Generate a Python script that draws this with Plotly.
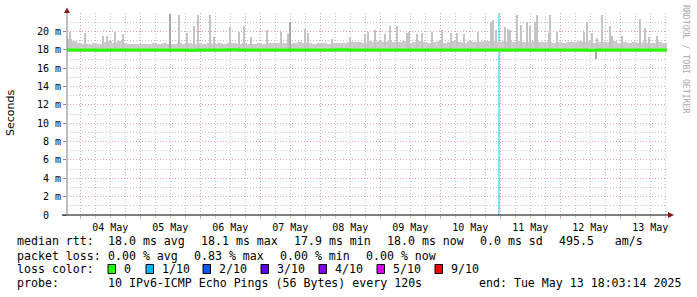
import plotly.graph_objects as go
import pandas as pd

# ---------------- data ----------------
START = pd.Timestamp("2025-05-03 18:40")
END = pd.Timestamp("2025-05-13 18:40")

# smoke band upper edge, one value per 2-hour column (ms)
band_top_ms = [
    19.2, 19.0, 18.8, 18.7, 18.7, 18.8, 18.7, 18.9, 19.0, 18.8, 19.0, 18.8,
    18.7, 18.7, 18.6, 18.7, 18.7, 18.8, 18.7, 18.8, 18.7, 18.6, 18.8, 18.7,
    18.8, 18.7, 18.8, 18.7, 18.8, 18.7, 18.8, 18.7, 18.8, 18.8, 18.7, 18.8,
    18.7, 18.7, 18.8, 18.7, 18.8, 18.8, 18.8, 18.8, 18.7, 18.8, 18.9, 18.8,
    18.8, 18.7, 18.8, 18.8, 18.7, 18.8, 18.8, 18.8, 18.9, 18.9, 18.9, 18.8,
    19.0, 18.9, 19.0, 18.9, 19.0, 18.9, 18.9, 19.0, 18.8, 18.9, 19.0, 18.9,
    18.8, 18.9, 19.0, 18.8, 18.9, 19.0, 18.9, 18.8, 19.0, 18.9, 18.9, 19.0,
    19.0, 19.0, 18.9, 19.0, 19.0, 18.9, 19.0, 18.9, 18.9, 19.0, 18.9, 18.9,
    18.9, 18.8, 18.9, 18.8, 18.9, 18.9, 19.0, 18.9, 19.0, 18.8, 18.9, 18.9,
    18.9, 19.0, 18.8, 18.9, 18.8, 18.9, 18.8, 18.9, 18.8, 18.8, 18.9, 18.8,
]
smoke_floor_ms = 17.8

# individual smoke spikes (hours after START, ms)
spike_hours = [1.2, 7.2, 14.4, 16.0, 19.2, 22.4, 44.8, 48.0, 50.8, 52.4,
               57.2, 58.8, 65.2, 68.8, 70.8, 73.6, 80.0, 85.6, 88.4, 95.2,
               96.4, 106.0, 113.2, 119.2, 120.4, 123.2, 127.2, 129.2, 132.0, 136.0,
               136.8, 140.0, 142.0, 146.0, 150.0, 153.6, 156.0, 158.8, 164.4, 169.6,
               170.4, 171.6, 175.2, 176.4, 177.2, 180.0, 181.6, 184.0, 185.2, 187.2,
               188.0, 192.8, 193.2, 196.0, 206.8, 208.0, 210.0, 212.0, 214.0, 217.2,
               218.0, 222.0, 229.2, 231.2, 232.8, 236.0]
spike_ms = [20.0, 19.9, 19.5, 19.5, 20.0, 19.7, 21.8, 19.9, 20.6, 21.8,
            21.8, 19.4, 20.5, 20.0, 20.6, 19.4, 20.2, 20.0, 19.7, 20.3,
            19.9, 19.2, 19.4, 19.7, 20.0, 20.2, 19.7, 20.6, 20.6, 19.9,
            20.0, 19.7, 19.9, 20.0, 20.2, 19.8, 19.8, 19.7, 20.0, 21.0,
            21.3, 20.2, 20.5, 20.3, 20.2, 21.8, 20.7, 21.0, 20.6, 21.0,
            21.8, 19.8, 21.8, 20.0, 20.0, 21.0, 19.8, 19.3, 21.8, 20.6,
            19.5, 19.5, 21.4, 20.4, 19.4, 19.5]
dark_spike_hours = [41.2, 89.2]
dark_spike_ms = [21.9, 21.0]
dip_hours = [211.6]
dip_ms = [17.0]

# median rtt, one value per 4-hour step (ms)
median_ms = [
    18.00, 18.00, 18.00, 17.98, 18.00, 18.00, 18.00, 18.00, 18.00, 18.00,
    18.00, 18.00, 17.98, 18.00, 18.00, 18.00, 18.02, 18.00, 18.00, 18.00,
    18.00, 18.00, 18.00, 18.00, 18.00, 18.00, 18.00, 18.02, 18.00, 18.00,
    18.00, 18.00, 18.00, 18.00, 18.00, 18.00, 18.00, 18.00, 18.00, 18.00,
    18.00, 18.00, 18.00, 18.00, 18.00, 18.00, 18.00, 18.00, 18.00, 18.00,
    18.00, 18.00, 17.98, 18.00, 18.00, 18.00, 18.00, 18.00, 18.00, 18.00,
]

loss_times = ["2025-05-10 23:24"]
loss_fraction = [0.1]

y_ticks_ms = [0, 2, 4, 6, 8, 10, 12, 14, 16, 18, 20]
y_tick_text = ["0\u00a0\u00a0"] + [f"{v} m" for v in y_ticks_ms[1:]]

rtt_texts = ["median rtt:", "18.0 ms avg", "18.1 ms max", "17.9 ms min",
             "18.0 ms now", "0.0 ms sd", "495.5\u00a0\u00a0\u00a0am/s"]
loss_texts = ["packet loss:", "0.00 % avg", "0.83 % max", "0.00 % min", "0.00 % now"]
loss_labels = ["0", "1/10", "2/10", "3/10", "4/10", "5/10", "9/10"]
loss_colors = ["#26ff00", "#00b8ff", "#0059ff", "#5e00ff", "#7e00ff", "#dd00ff", "#ff0000"]
probe_texts = ["probe:", "10 IPv6-ICMP Echo Pings (56 Bytes) every 120s",
               "end: Tue May 13 18:03:14 2025"]

# ---------------- layout helpers ----------------
PL, PW, PB, PH = 67, 600, 215, 202   # plot left, width, bottom, height (px)
Y_MAX = 22.03


def px_x(px):
    return (px - PL) / PW


def px_y(py):
    return (PB - py) / PH


MONO = "DejaVu Sans Mono"
HOUR = pd.Timedelta(hours=1)
MAJOR_GRID = "#eaa2a2"
MINOR_GRID = "#c4c4c4"
GRID_DASH = "1px,2px"

fig = go.Figure()

# loss bar
fig.add_trace(go.Bar(
    x=pd.to_datetime(loss_times), y=[Y_MAX for _ in loss_times], base=0,
    width=2880000, marker=dict(color="rgba(0,184,255,0.45)", line=dict(width=0)),
    hoverinfo="skip"))

# smoke band
band_x = [START + HOUR * (2 * i + 1) for i in range(len(band_top_ms))]
fig.add_trace(go.Bar(
    x=band_x, y=[v - smoke_floor_ms for v in band_top_ms], base=smoke_floor_ms,
    width=7200000, marker=dict(color="#cccccc", line=dict(width=0))))

# spikes
fig.add_trace(go.Bar(
    x=[START + HOUR * h for h in spike_hours],
    y=[v - smoke_floor_ms for v in spike_ms], base=smoke_floor_ms,
    width=1440000, marker=dict(color="#c4c4c4", line=dict(width=0))))
fig.add_trace(go.Bar(
    x=[START + HOUR * h for h in dark_spike_hours],
    y=[v - smoke_floor_ms for v in dark_spike_ms], base=smoke_floor_ms,
    width=1440000, marker=dict(color="#a8a8a8", line=dict(width=0))))
fig.add_trace(go.Bar(
    x=[START + HOUR * h for h in dip_hours],
    y=[smoke_floor_ms - v for v in dip_ms], base=dip_ms,
    width=1440000, marker=dict(color="#a8a8a8", line=dict(width=0))))

# median line
med_x = [START + HOUR * (4 * i) for i in range(len(median_ms))] + [END]
fig.add_trace(go.Scatter(
    x=med_x, y=median_ms + [median_ms[-1]], mode="lines",
    line=dict(color="#26ff00", width=3, shape="hv"), hoverinfo="skip"))

fig.update_layout(
    width=697, height=297,
    margin=dict(l=PL, r=697 - PL - PW, t=PB - PH, b=297 - PB),
    paper_bgcolor="white", plot_bgcolor="white",
    barmode="overlay", bargap=0, showlegend=False,
    font=dict(family=MONO, size=10, color="black"),
)

fig.update_xaxes(
    type="date", range=[START, END],
    tick0="2025-05-04", dtick=86400000, ticklabelmode="period", tickformat="%d %b",
    showgrid=True, gridcolor=MAJOR_GRID, griddash=GRID_DASH, gridwidth=1,
    ticks="outside", ticklen=3, tickcolor=MAJOR_GRID,
    tickfont=dict(family=MONO, size=10, color="black"),
    minor=dict(dtick=21600000, showgrid=True, gridcolor=MINOR_GRID,
               griddash=GRID_DASH, ticks="outside", ticklen=2, tickcolor="#c8c8c8"),
    showline=False, zeroline=False, fixedrange=True,
)
fig.update_yaxes(
    range=[0, Y_MAX], tickvals=y_ticks_ms, ticktext=y_tick_text,
    showgrid=True, gridcolor=MAJOR_GRID, griddash=GRID_DASH, gridwidth=1,
    ticks="outside", ticklen=3, tickcolor="#888888",
    tickfont=dict(family=MONO, size=10, color="black"),
    minor=dict(dtick=1, showgrid=True, gridcolor=MINOR_GRID, griddash=GRID_DASH),
    showline=False, zeroline=False, fixedrange=True,
)

shapes = [
    # axis lines
    dict(type="line", xref="paper", yref="paper", x0=px_x(62), x1=px_x(668),
         y0=0, y1=0, line=dict(color="black", width=1), layer="above"),
    dict(type="line", xref="paper", yref="paper", x0=0, x1=0,
         y0=0, y1=px_y(10), line=dict(color="#808080", width=1), layer="above"),
    # arrows
    dict(type="path", xref="paper", yref="paper",
         path=f"M {px_x(64)},{px_y(13)} L {px_x(67)},{px_y(7.5)} L {px_x(70)},{px_y(13)} Z",
         fillcolor="#8b1a1a", line=dict(width=0), layer="above"),
    dict(type="path", xref="paper", yref="paper",
         path=f"M {px_x(668)},{px_y(212)} L {px_x(674)},{px_y(215)} L {px_x(668)},{px_y(218)} Z",
         fillcolor="#8b1a1a", line=dict(width=0), layer="above"),
]

annotations = [
    dict(text="Seconds", xref="paper", yref="paper", x=px_x(10), y=px_y(113),
         xanchor="center", yanchor="middle", textangle=-90, showarrow=False,
         font=dict(family="DejaVu Sans", size=11, color="black")),
    dict(text="RRDTOOL / TOBI OETIKER", xref="paper", yref="paper",
         x=px_x(686), y=px_y(59), xanchor="center", yanchor="middle",
         textangle=90, showarrow=False,
         font=dict(family=MONO, size=8.2, color="#aaaaaa")),
]

LEG_FONT = dict(family=MONO, size=11.6, color="black")


def add_row(texts, xs, yc):
    for t, xp in zip(texts, xs):
        annotations.append(dict(text=t, xref="paper", yref="paper", x=px_x(xp - 1),
                                y=px_y(yc), xanchor="left", yanchor="middle",
                                showarrow=False, font=LEG_FONT))


add_row(rtt_texts, [16, 107, 200, 293, 386, 479, 558], 241.5)
add_row(loss_texts, [16, 107, 193, 279, 365], 255.5)
add_row(["loss color:"], [16], 269)
swatch_x = [108, 146, 203, 261, 319, 377, 435]
for lbl, col, sx in zip(loss_labels, loss_colors, swatch_x):
    shapes.append(dict(type="rect", xref="paper", yref="paper",
                       x0=px_x(sx), x1=px_x(sx + 7.5), y0=px_y(273.5), y1=px_y(264.5),
                       fillcolor=col, line=dict(color="black", width=1)))
add_row(loss_labels, [sx + 15 for sx in swatch_x], 269)
add_row(probe_texts, [16, 107, 478], 283)

fig.update_layout(shapes=shapes, annotations=annotations)

fig.write_html("out.html")
